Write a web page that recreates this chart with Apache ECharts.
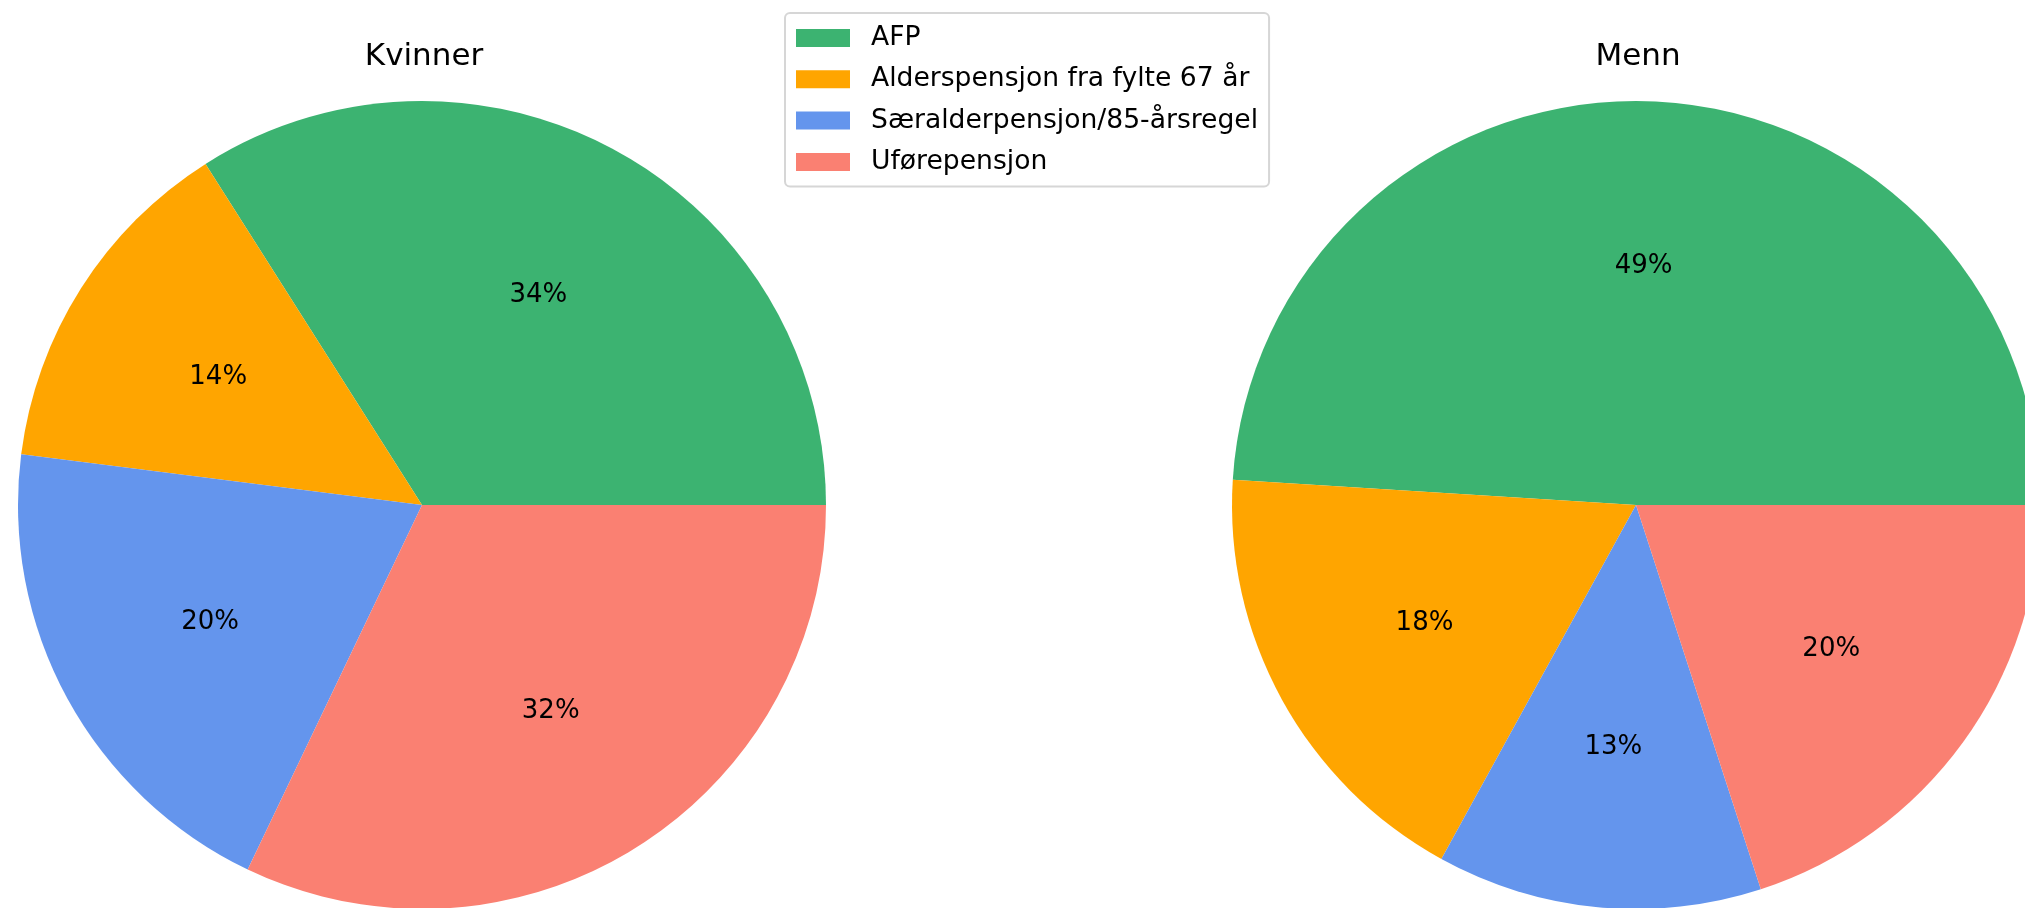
<!DOCTYPE html>
<html>
<head>
<meta charset="utf-8">
<script src="https://cdn.jsdelivr.net/npm/echarts@6/dist/echarts.min.js"></script>
<style>
html, body { margin: 0; padding: 0; background: #fff; }
#chart { width: 2025px; height: 908px; }
</style>
</head>
<body>
<div id="chart"></div>
<script>
var categories = ['AFP', 'Alderspensjon fra fylte 67 år', 'Særalderpensjon/85-årsregel', 'Uførepensjon'];
var colors = ['#3CB371', '#FFA500', '#6495ED', '#FA8072'];
var kvinner = [34.0, 14.0, 19.9, 32.1];
var menn = [49.0, 18.0, 13.0, 20.0];
var titles = ['Kvinner', 'Menn'];

var font = 'DejaVu Sans';
var R = 404;
var centers = [[422, 505], [1636, 505]];

function toData(vals) {
    return vals.map(function (v, i) {
        return { name: categories[i], value: v, itemStyle: { color: colors[i] } };
    });
}

var series = [];
[kvinner, menn].forEach(function (vals, k) {
    // the pie itself
    series.push({
        type: 'pie',
        center: centers[k],
        radius: [0, R],
        startAngle: 0,
        clockwise: false,
        silent: true,
        emphasis: { disabled: true },
        itemStyle: { borderWidth: 0 },
        label: { show: false },
        labelLine: { show: false },
        data: toData(vals)
    });
});
[kvinner, menn].forEach(function (vals, k) {
    // label ring so the text sits at ~0.6 of the radius
    series.push({
        type: 'pie',
        center: centers[k],
        radius: [R * 0.18, R],
        startAngle: 0,
        clockwise: false,
        silent: true,
        emphasis: { disabled: true },
        itemStyle: { color: 'rgba(0,0,0,0)', borderWidth: 0 },
        label: {
            show: true,
            position: 'inside',
            offset: [0, 2],
            color: '#000',
            fontFamily: font,
            fontSize: 26,
            formatter: function (p) { return Math.round(p.percent) + '%'; }
        },
        labelLine: { show: false },
        data: vals.map(function (v, i) { return { name: categories[i], value: v }; })
    });
});

var myChart = echarts.init(document.getElementById('chart'));
var option = {
    animation: false,
    backgroundColor: '#fff',
    title: titles.map(function (t, k) {
        return {
            text: t,
            left: centers[k][0] - 3,
            top: 36,
            textAlign: 'center',
            textStyle: { fontFamily: font, fontSize: 31, fontWeight: 'normal', color: '#000' }
        };
    }),
    legend: {
        orient: 'vertical',
        left: 785,
        top: 13,
        padding: [11.5, 11, 11, 11],
        backgroundColor: '#fff',
        borderColor: '#d6d6d6',
        borderWidth: 2,
        borderRadius: 5,
        icon: 'rect',
        itemWidth: 54,
        itemHeight: 18,
        itemGap: 14.3,
        selectedMode: false,
        data: categories,
        textStyle: {
            fontFamily: font,
            fontSize: 26.6,
            color: '#000',
            lineHeight: 18,
            padding: [0, 0, 0, 16]
        }
    },
    series: series
};
myChart.setOption(option);
</script>
</body>
</html>
